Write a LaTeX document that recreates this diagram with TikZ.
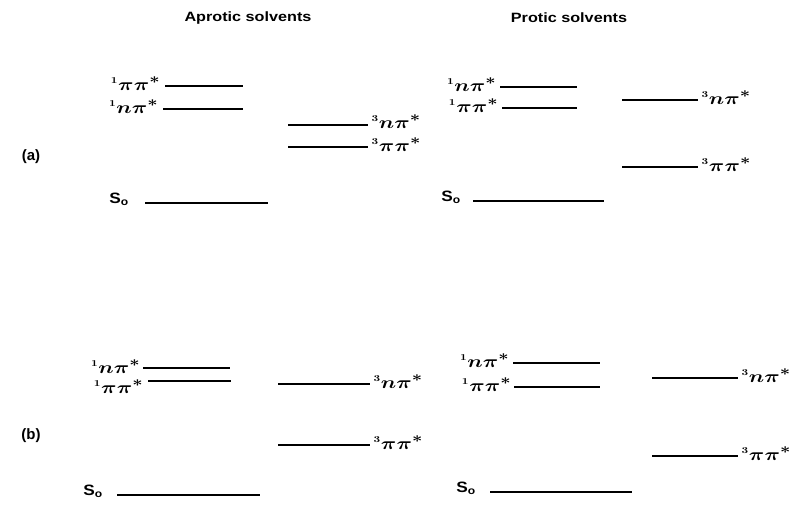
\documentclass[tikz,border=0pt]{standalone}
\usepackage{fontspec}
\setmainfont{Liberation Sans}
\usepackage{graphicx}
\begin{document}
\begin{tikzpicture}[x=1pt,y=-1pt,
  lvl/.style={line width=2pt},
  lab/.style={font=\fontsize{19}{19}\selectfont\boldmath, inner sep=0.5pt},
  slab/.style={font=\fontsize{15}{15}\selectfont\bfseries, inner sep=2pt},
  ttl/.style={font=\fontsize{13.5}{13.5}\selectfont\bfseries, inner sep=0pt}]
\useasboundingbox (0,0) rectangle (803,506);
\newcommand{\pp}[1]{\scalebox{1.25}[1]{$^{\scriptscriptstyle #1}\pi\pi^{*}$}}
\newcommand{\np}[1]{\scalebox{1.25}[1]{$^{\scriptscriptstyle #1}n\pi^{*}$}}
\newcommand{\so}{\scalebox{1.15}[1]{S$_{\mathbf{o}}$}}
% titles
\node[ttl] (t1) at (248,18) {\scalebox{1.2}[1]{Aprotic solvents}};
\node[ttl] (t2) at (569,18) {\scalebox{1.2}[1]{Protic solvents}};
\node[slab] (pa) at (31,157) {(a)};
\node[slab] (pb) at (31,436) {(b)};
% (a) aprotic
\coordinate (a1s) at (165,86);  \coordinate (a1e) at (243,86);
\coordinate (a2s) at (163,109); \coordinate (a2e) at (243,109);
\coordinate (a3s) at (288,125); \coordinate (a3e) at (368,125);
\coordinate (a4s) at (288,147); \coordinate (a4e) at (368,147);
\coordinate (a5s) at (145,203); \coordinate (a5e) at (268,203);
\foreach \i in {1,...,5} \draw[lvl] (a\i s) -- (a\i e);
\node[lab,anchor=base east] (la1) at ([xshift=-4pt,yshift=-4pt]a1s) {\pp{1}};
\node[lab,anchor=base east] (la2) at ([xshift=-4pt,yshift=-4pt]a2s) {\np{1}};
\node[lab,anchor=base west] (la3) at ([xshift=3pt,yshift=-3pt]a3e) {\np{3}};
\node[lab,anchor=base west] (la4) at ([xshift=3pt,yshift=-4pt]a4e) {\pp{3}};
\node[slab,anchor=base east] (la5) at ([xshift=-14pt]a5s) {\so};
% (a) protic
\coordinate (b1s) at (500,87);  \coordinate (b1e) at (577,87);
\coordinate (b2s) at (502,108); \coordinate (b2e) at (577,108);
\coordinate (b3s) at (622,100); \coordinate (b3e) at (698,100);
\coordinate (b4s) at (622,167); \coordinate (b4e) at (698,167);
\coordinate (b5s) at (473,201); \coordinate (b5e) at (604,201);
\foreach \i in {1,...,5} \draw[lvl] (b\i s) -- (b\i e);
\node[lab,anchor=base east] (lb1) at ([xshift=-3pt,yshift=-4pt]b1s) {\np{1}};
\node[lab,anchor=base east] (lb2) at ([xshift=-3pt,yshift=-4pt]b2s) {\pp{1}};
\node[lab,anchor=base west] (lb3) at ([xshift=3pt,yshift=-4pt]b3e) {\np{3}};
\node[lab,anchor=base west] (lb4) at ([xshift=3pt,yshift=-4pt]b4e) {\pp{3}};
\node[slab,anchor=base east] (lb5) at ([xshift=-10pt]b5s) {\so};
% (b) aprotic
\coordinate (c1s) at (143,368); \coordinate (c1e) at (230,368);
\coordinate (c2s) at (148,381); \coordinate (c2e) at (231,381);
\coordinate (c3s) at (278,384); \coordinate (c3e) at (370,384);
\coordinate (c4s) at (278,445); \coordinate (c4e) at (370,445);
\coordinate (c5s) at (117,495); \coordinate (c5e) at (260,495);
\foreach \i in {1,...,5} \draw[lvl] (c\i s) -- (c\i e);
\node[lab,anchor=base east] (lc1) at ([xshift=-2pt,yshift=-5pt]c1s) {\np{1}};
\node[lab,anchor=base east] (lc2) at ([xshift=-4pt,yshift=-12pt]c2s) {\pp{1}};
\node[lab,anchor=base west] (lc3) at ([xshift=3pt,yshift=-4pt]c3e) {\np{3}};
\node[lab,anchor=base west] (lc4) at ([xshift=3pt,yshift=-4pt]c4e) {\pp{3}};
\node[slab,anchor=base east] (lc5) at ([xshift=-12pt]c5s) {\so};
% (b) protic
\coordinate (d1s) at (513,363); \coordinate (d1e) at (600,363);
\coordinate (d2s) at (514,387); \coordinate (d2e) at (600,387);
\coordinate (d3s) at (652,378); \coordinate (d3e) at (738,378);
\coordinate (d4s) at (652,456); \coordinate (d4e) at (738,456);
\coordinate (d5s) at (490,492); \coordinate (d5e) at (632,492);
\foreach \i in {1,...,5} \draw[lvl] (d\i s) -- (d\i e);
\node[lab,anchor=base east] (ld1) at ([xshift=-3pt,yshift=-4pt]d1s) {\np{1}};
\node[lab,anchor=base east] (ld2) at ([xshift=-2pt,yshift=-4pt]d2s) {\pp{1}};
\node[lab,anchor=base west] (ld3) at ([xshift=3pt,yshift=-4pt]d3e) {\np{3}};
\node[lab,anchor=base west] (ld4) at ([xshift=3pt,yshift=-4pt]d4e) {\pp{3}};
\node[slab,anchor=base east] (ld5) at ([xshift=-12pt]d5s) {\so};
\end{tikzpicture}
\end{document}
